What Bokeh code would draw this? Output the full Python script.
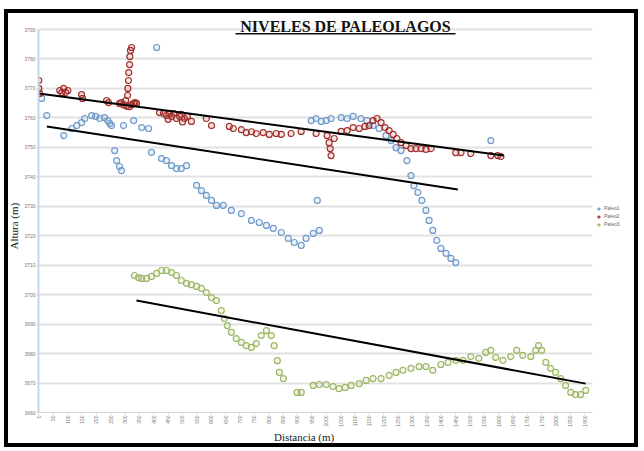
import math
from bokeh.plotting import figure
from bokeh.models import (Range1d, FixedTicker, Label, BoxAnnotation, Legend, LegendItem,
                          ColumnDataSource)
from bokeh.embed import file_html
from bokeh.resources import INLINE

# Distance along the profile (m) and altitude (m) of each paleolake level
paleo1_dist = [10, 28, 87, 115, 132, 149, 160, 184, 198, 212, 229, 240, 247, 253, 264, 271, 281, 288,
               295, 330, 358, 382, 392, 410, 427, 444, 462, 479, 496, 514, 549, 566, 583, 601, 618,
               642, 670, 705, 740, 767, 792, 816, 844, 868, 889, 913, 930, 955, 969, 976, 948, 965,
               983, 1000, 1017, 1052, 1073, 1094, 1121, 1142, 1163, 1184, 1208, 1226, 1243, 1260,
               1281, 1295, 1305, 1319, 1333, 1347, 1358, 1371, 1385, 1399, 1417, 1434, 1451, 1573]
paleo1_alt = [3766.6, 3760.8, 3754.0, 3756.4, 3757.4, 3758.4, 3759.8, 3760.8, 3760.5, 3759.8, 3760.1,
              3759.1, 3758.1, 3757.4, 3748.9, 3745.5, 3743.5, 3742.1, 3757.4, 3759.1, 3756.7, 3756.4,
              3748.3, 3783.9, 3746.2, 3745.5, 3743.8, 3742.8, 3742.8, 3743.8, 3737.1, 3735.3, 3733.7,
              3732.0, 3730.3, 3730.3, 3728.6, 3727.5, 3725.2, 3724.5, 3723.5, 3722.5, 3721.1, 3719.1,
              3717.7, 3716.7, 3719.1, 3720.8, 3732.0, 3721.8, 3759.1, 3759.8, 3758.8, 3759.1, 3759.8,
              3760.1, 3759.8, 3760.5, 3759.8, 3759.1, 3757.4, 3756.4, 3754.0, 3752.3, 3749.9, 3748.9,
              3745.5, 3740.4, 3737.0, 3734.7, 3732.0, 3728.6, 3725.2, 3721.8, 3718.4, 3715.7, 3714.0,
              3712.3, 3710.9, 3752.3]

paleo2_dist = [0, 0, 3, 73, 80, 87, 94, 101, 149, 152, 236, 243, 281, 288, 295, 302, 309, 310, 312,
               313, 316, 317, 319, 323, 323, 330, 340, 305, 315, 335, 420, 434, 444, 455, 462, 469,
               479, 490, 496, 507, 517, 531, 450, 500, 583, 601, 663, 677, 705, 722, 740, 757, 781,
               802, 826, 844, 878, 913, 965, 1003, 1010, 1014, 1017, 1028, 1052, 1073, 1094, 1115,
               1135, 1149, 1163, 1177, 1191, 1205, 1219, 1233, 1246, 1260, 1278, 1295, 1312, 1330,
               1347, 1365, 1451, 1469, 1503, 1573, 1597, 1608]
paleo2_alt = [3772.7, 3770.0, 3768.3, 3769.3, 3768.6, 3770.0, 3768.6, 3769.3, 3767.9, 3766.6, 3765.9,
              3765.2, 3764.9, 3765.2, 3764.5, 3765.9, 3767.6, 3770.0, 3772.7, 3775.4, 3778.1, 3780.8,
              3782.9, 3783.9, 3764.5, 3764.9, 3764.9, 3764.0, 3763.8, 3765.2, 3761.8, 3761.5, 3760.8,
              3761.5, 3760.5, 3761.5, 3759.8, 3760.5, 3761.2, 3759.8, 3760.5, 3758.8, 3759.5, 3758.6,
              3759.8, 3757.4, 3757.1, 3756.4, 3756.0, 3755.0, 3755.3, 3754.7, 3755.0, 3754.4, 3754.7,
              3754.4, 3754.7, 3755.4, 3754.7, 3754.0, 3751.6, 3749.6, 3747.2, 3753.0, 3755.4, 3755.7,
              3756.7, 3756.4, 3757.1, 3757.4, 3759.1, 3759.8, 3758.4, 3756.7, 3755.7, 3754.4, 3753.0,
              3751.6, 3750.6, 3749.6, 3749.6, 3749.6, 3749.3, 3749.6, 3748.2, 3748.2, 3747.9, 3747.2,
              3747.2, 3746.9]

paleo3_dist = [333, 347, 358, 375, 392, 410, 427, 444, 462, 479, 496, 514, 531, 549, 566, 583, 601,
               618, 635, 646, 656, 670, 687, 705, 722, 740, 757, 774, 792, 809, 819, 830, 837, 851,
               899, 913, 955, 976, 1000, 1024, 1045, 1066, 1087, 1115, 1139, 1163, 1191, 1219, 1243,
               1267, 1295, 1323, 1347, 1371, 1399, 1424, 1451, 1476, 1503, 1531, 1555, 1573, 1590,
               1615, 1642, 1663, 1684, 1712, 1729, 1739, 1750, 1764, 1781, 1798, 1816, 1833, 1851,
               1868, 1885, 1903]
paleo3_alt = [3706.5, 3705.8, 3705.5, 3705.5, 3706.2, 3707.2, 3708.2, 3708.2, 3707.5, 3706.5, 3704.8,
              3703.8, 3703.4, 3702.8, 3702.1, 3700.7, 3699.0, 3698.0, 3694.6, 3691.9, 3689.5, 3687.2,
              3685.1, 3683.8, 3682.7, 3682.1, 3683.4, 3686.1, 3687.8, 3686.1, 3682.7, 3677.6, 3673.6,
              3671.5, 3666.8, 3666.8, 3669.2, 3669.5, 3669.5, 3668.8, 3668.1, 3668.5, 3669.2, 3669.8,
              3670.9, 3671.5, 3671.5, 3672.6, 3673.6, 3674.3, 3675.0, 3675.6, 3675.6, 3674.3, 3676.3,
              3677.0, 3677.7, 3677.7, 3679.0, 3678.4, 3680.4, 3681.1, 3678.7, 3677.7, 3679.0, 3681.1,
              3679.4, 3679.0, 3681.1, 3682.7, 3681.1, 3677.0, 3675.0, 3673.6, 3671.5, 3669.2, 3666.8,
              3666.1, 3666.1, 3667.5]

# Level lines drawn over each series: (start, end) distance and altitude
level_dist = [(28, 1458), (0, 1618), (340, 1903)]
level_alt = [(3757.1, 3735.7), (3768.3, 3747.2), (3698.0, 3669.8)]

series_names = ["Paleo1", "Paleo2", "Paleo3"]
series_colors = ["#6f9acb", "#a3302d", "#9cb865"]

x_ticks = list(range(0, 1901, 50))
y_ticks = list(range(3660, 3791, 10))

# canvas placed at (4, 9) on the page; the black frame is a CSS outline drawn inside it,
# visible through the transparent plot fills
ORIGIN_X, ORIGIN_Y = 4, 9
W, H = 634, 438
FRAME_L, FRAME_B = 34, 403
PX_PER_M_X = 14.37 / 50
PX_PER_M_Y = 2.946

x0 = -1
y0 = 3660
p = figure(width=W, height=H, output_backend="svg", toolbar_location=None,
           x_range=Range1d(x0, x0 + (W - FRAME_L) / PX_PER_M_X),
           y_range=Range1d(y0, y0 + FRAME_B / PX_PER_M_Y),
           min_border_left=FRAME_L, min_border_right=0, min_border_top=0,
           min_border_bottom=H - FRAME_B)
p.styles = {"outline": "4px solid #000000", "outline-offset": "-4px",
            "margin-left": f"{ORIGIN_X}px", "margin-top": f"{ORIGIN_Y}px",
            "background-color": "#ffffff"}
p.outline_line_color = None
p.background_fill_alpha = 0
p.border_fill_alpha = 0

p.xgrid.grid_line_color = None
p.ygrid.grid_line_color = "#e2e2e2"
p.ygrid.grid_line_width = 2
p.ygrid.cross_bounds = (x0, 1926)

p.xaxis.ticker = FixedTicker(ticks=x_ticks)
p.yaxis.ticker = FixedTicker(ticks=y_ticks)
for ax in (p.xaxis[0], p.yaxis[0]):
    ax.major_label_text_font_size = "5px"
    ax.major_label_text_color = "#7a7a7a"
    ax.minor_tick_line_color = None
    ax.major_tick_in = 0
    ax.major_tick_out = 2
    ax.major_label_standoff = 1
    ax.major_tick_line_color = "#d8d8d8"
    ax.axis_label_text_font = "Liberation Serif"
    ax.axis_label_text_font_style = "normal"
    ax.axis_label_text_font_size = "11px"
    ax.axis_label_text_color = "#222222"
    ax.axis_label_standoff = 1
p.xaxis.major_label_orientation = math.pi / 2
p.xaxis.axis_line_color = "#d8d8d8"
p.xaxis.bounds = (x0, 1926)
p.yaxis.axis_line_color = "#c3d6ec"
p.yaxis.axis_line_width = 2
p.yaxis.bounds = (3660, 3790)
# trailing no-break spaces shift the centred axis titles
p.xaxis.axis_label = "Distancia (m)" + "\u00a0" * 25
p.yaxis.axis_label = "Altura (m)" + "\u00a0" * 11

items = []
for name, color, xs, ys in zip(series_names, series_colors,
                               [paleo1_dist, paleo2_dist, paleo3_dist],
                               [paleo1_alt, paleo2_alt, paleo3_alt]):
    src = ColumnDataSource(dict(x=xs, y=ys))
    r = p.scatter("x", "y", source=src, size=6, marker="circle", line_color=color,
                  line_width=1.2, fill_color=color, fill_alpha=0.12)
    items.append(LegendItem(label=name, renderers=[r]))

for xs, ys in zip(level_dist, level_alt):
    p.line(list(xs), list(ys), line_color="black", line_width=2)


def sx(page_x):
    return page_x - ORIGIN_X - FRAME_L


def sy(page_y):
    return FRAME_B - (page_y - ORIGIN_Y)


legend = Legend(items=items, location=(sx(596), sy(227)), label_text_font_size="5px",
                label_text_color="#666666", glyph_width=5, glyph_height=5, spacing=2,
                padding=2, margin=0, border_line_color=None, background_fill_alpha=0,
                label_height=6, label_standoff=3)
p.add_layout(legend)

p.add_layout(Label(x=sx(345), y=sy(25.5), x_units="screen", y_units="screen",
                   text="NIVELES DE PALEOLAGOS", text_align="center",
                   text_baseline="middle", text_font="Liberation Serif",
                   text_font_style="bold", text_font_size="16px", text_color="#111111"))
p.add_layout(BoxAnnotation(left=sx(235), right=sx(455), top=sy(32.5), bottom=sy(34),
                           left_units="screen", right_units="screen", top_units="screen",
                           bottom_units="screen", fill_color="#111111", fill_alpha=1,
                           line_alpha=0))

open("out.html", "w").write(file_html(p, INLINE))
